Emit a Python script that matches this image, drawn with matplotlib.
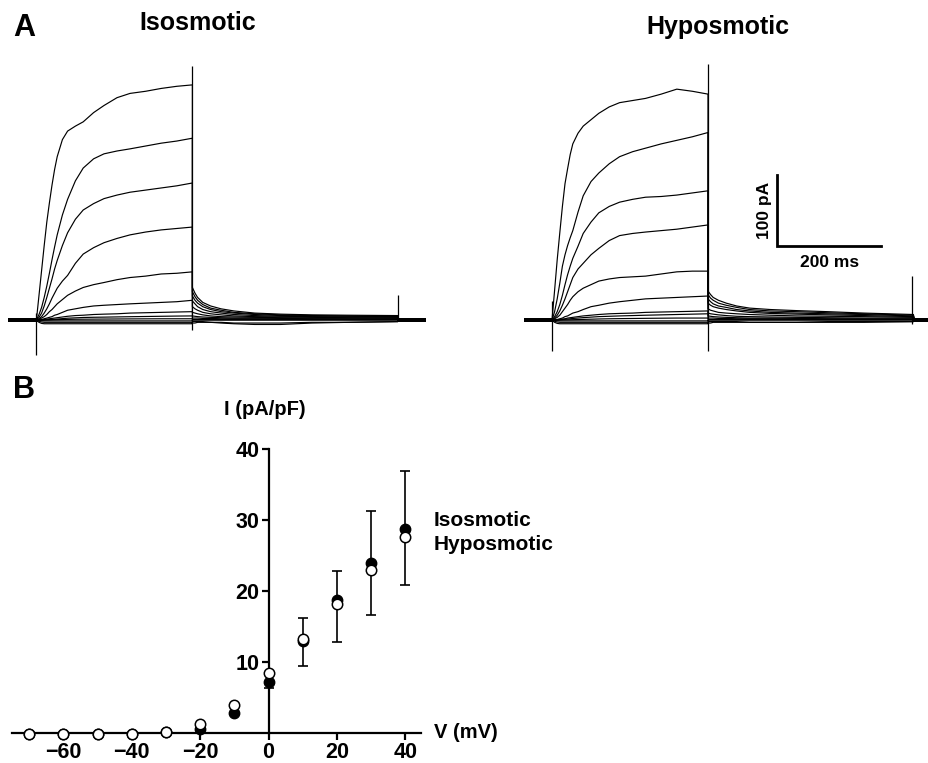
import matplotlib
matplotlib.use("Agg")
import matplotlib.pyplot as plt
import numpy as np

plt.rcParams['font.family'] = ['Liberation Sans', 'DejaVu Sans']
plt.rcParams['font.weight'] = 'bold'

# ---------------- Panel A data (current traces, pA vs ms) ----------------
t_pre = [-50, 0]
t_act = [0, 5, 10, 15, 20, 25, 30, 35, 40, 50, 60, 75, 90, 110, 130, 155, 180, 210, 240, 270, 300]
t_tail = [300, 305, 310, 320, 335, 355, 380, 420, 470, 530, 600, 695]
t_post = [697, 745]

iso_act = [
    [0, 35, 70, 105, 138, 165, 190, 212, 230, 254, 266, 273, 279, 292, 302, 313, 319, 322, 326, 329, 331],
    [0, 8, 18, 32, 48, 66, 85, 103, 120, 148, 170, 196, 214, 227, 234, 238, 241, 245, 249, 252, 256],
    [0, 4, 10, 20, 32, 45, 58, 72, 84, 105, 123, 142, 155, 164, 171, 176, 180, 183, 186, 189, 193],
    [0, 2, 5, 10, 16, 23, 31, 38, 45, 55, 63, 80, 93, 102, 109, 115, 120, 124, 127, 129, 131],
    [0, 1, 3, 5, 8, 12, 15, 19, 23, 29, 35, 41, 46, 50, 53, 57, 60, 62, 65, 66, 68],
    [0, 0.5, 1, 2, 3, 4, 5, 7, 8, 11, 14, 16, 18, 20, 21, 22, 23, 24, 25, 26, 28],
    [0, 0.2, 0.5, 1, 1.5, 2, 2.5, 3, 3.5, 4.5, 5.5, 6.5, 7, 8, 8.5, 9, 10, 10.5, 11, 11.5, 12],
    [0, 0.1, 0.2, 0.4, 0.6, 0.8, 1, 1.3, 1.6, 2.2, 2.8, 3.3, 3.8, 4.1, 4.3, 4.6, 4.9, 5.2, 5.5, 5.8, 6],
    [0, 0, 0.1, 0.2, 0.3, 0.4, 0.5, 0.6, 0.7, 0.9, 1.1, 1.3, 1.4, 1.5, 1.6, 1.7, 1.8, 1.9, 2, 2, 2],
    [0, -0.5, -0.8, -1, -1, -1, -1, -1, -1, -1, -1, -1, -1, -1, -1, -1, -1, -1, -1, -1, -1],
    [0, -1.5, -2.5, -3, -3, -3, -3, -3, -3, -3, -3, -3, -3, -3, -3, -3, -3, -3, -3, -3, -3],
    [0, -3, -4.5, -5, -5, -5, -5, -5, -5, -5, -5, -5, -5, -5, -5, -5, -5, -5, -5, -5, -5],
]
iso_tail = [
    [46, 38, 32, 25, 20, 16, 13, 10, 8.5, 7.5, 7, 6.5],
    [40, 33, 28, 22, 17, 14, 11, 9, 7.5, 6.5, 6, 5.5],
    [34, 28, 24, 19, 15, 12, 10, 8, 6.5, 6, 5.5, 5],
    [27, 23, 19, 15, 12, 10, 8, 6.5, 5.5, 5, 4.5, 4],
    [19, 16, 14, 11, 9, 7.5, 6, 5, 4.5, 4, 3.5, 3],
    [11, 10, 9, 7.5, 6, 5, 4.5, 4, 3.5, 3, 3, 3],
    [6, 5.5, 5, 4.5, 4, 3.5, 3, 3, 2.5, 2, 2, 2],
    [3, 3, 3, 2.5, 2.5, 2, 2, 2, 1.5, 1.5, 1, 1],
    [1, 1, 1, 1, 1, 1, 1, 1, 1, 1, 1, 1],
    [0, 0, 0, 0, 0, 0, 0, 0, 0, 0, 0, 0],
    [-2, -2, -2, -2, -3, -4, -5, -6, -6, -4, -3, -2],
    [-4, -4, -3, -3, -3, -3, -4, -4, -4, -3, -3, -2],
]
hypo_act = [
    [0, 42, 85, 123, 160, 192, 213, 233, 248, 263, 273, 282, 291, 300, 306, 309, 312, 318, 325, 322, 318],
    [0, 12, 30, 52, 76, 92, 105, 116, 126, 152, 175, 195, 207, 220, 230, 237, 242, 248, 253, 258, 264],
    [0, 5, 12, 22, 35, 50, 64, 76, 87, 104, 122, 138, 151, 160, 166, 170, 173, 174, 176, 179, 182],
    [0, 3, 7, 13, 21, 30, 40, 50, 60, 72, 80, 92, 101, 112, 119, 122, 124, 126, 128, 131, 134],
    [0, 2, 4, 7, 12, 17, 22, 28, 33, 40, 45, 50, 55, 58, 60, 61, 62, 65, 68, 69, 69],
    [0, 0.5, 1, 2, 3, 5, 6, 8, 10, 12, 15, 19, 21, 24, 26, 28, 30, 31, 32, 33, 34],
    [0, 0.2, 0.5, 1, 1.5, 2, 3, 3.5, 4, 5, 6, 7, 8, 9, 9.5, 10, 11, 11.5, 12, 12.5, 13],
    [0, 0.1, 0.3, 0.6, 1, 1.3, 1.6, 2, 2.4, 3, 3.6, 4.3, 5, 5.5, 6, 6.5, 7, 7.5, 8, 8.5, 9],
    [0, 0, 0.1, 0.2, 0.3, 0.4, 0.5, 0.6, 0.7, 0.9, 1.1, 1.4, 1.7, 2, 2.2, 2.4, 2.6, 2.8, 3, 3, 3],
    [0, -0.5, -0.8, -1, -1, -1, -1, -1, -1, -1, -1, -1, -1, -1, -1, -1, -1, -1, -1, -1, -1],
    [0, -1.5, -2.5, -3, -3, -3, -3, -3, -3, -3, -3, -3, -3, -3, -3, -3, -3, -3, -3, -3, -3],
    [0, -3, -4.5, -5, -5, -5, -5, -5, -5, -5, -5, -5, -5, -5, -5, -5, -5, -5, -5, -5, -5],
]
hypo_tail = [
    [41, 36, 32, 28, 24, 20, 17, 15, 13.5, 12, 10, 8],
    [36, 31, 28, 24, 21, 18, 15, 13, 12, 10.5, 9, 7],
    [30, 26, 23, 20, 18, 15, 13, 11, 10, 9, 8, 6],
    [24, 21, 19, 17, 15, 13, 11, 9.5, 8.5, 7.5, 6.5, 5],
    [16, 14, 13, 11, 10, 9, 8, 7, 6, 5.5, 5, 4],
    [10, 9, 8.5, 7.5, 6.5, 5.5, 5, 4.5, 4, 3.5, 3, 3],
    [6, 5.5, 5, 4.5, 4, 3.5, 3, 3, 2.5, 2, 2, 2],
    [3, 3, 3, 2.5, 2.5, 2, 2, 2, 1.5, 1.5, 1, 1],
    [1, 1, 1, 1, 1, 1, 1, 1, 1, 1, 1, 1],
    [0, 0, 0, 0, 0, 0, 0, 0, 0, 0, 0, 0],
    [-2, -2, -2, -2, -2, -2, -3, -3, -3, -2, -2, -2],
    [-4, -4, -3, -3, -3, -3, -3, -3, -3, -3, -3, -2],
]
# capacitive transients: (time ms, low pA, high pA)
iso_spikes = [(0, -49, 10), (300, -14, 358), (696, 0, 35)]
hypo_spikes = [(0, -44, 27), (300, -44, 361), (692, -6, 62)]

# scale bar
bar_t0, bar_i0 = 433, 104
bar_ms, bar_pA = 200, 100

# ---------------- Panel B data (I-V) ----------------
V = [-70, -60, -50, -40, -30, -20, -10, 0, 10, 20, 30, 40]
I_iso = [-0.1, -0.1, -0.1, -0.1, 0.1, 0.6, 2.8, 7.2, 13.0, 18.8, 23.9, 28.8]
I_hypo = [-0.1, -0.1, -0.1, -0.1, 0.2, 1.2, 4.0, 8.5, 13.3, 18.1, 22.9, 27.6]
V_err = [0, 10, 20, 30, 40]
I_iso_mean_err = [7.2, 13.0, 18.8, 23.9, 28.8]
err_low = [6.3, 9.4, 12.8, 16.6, 20.8]
err_high = [8.1, 16.2, 22.8, 31.3, 36.9]
x_ticks = [-60, -40, -20, 0, 20, 40]
y_ticks = [10, 20, 30, 40]

W, H = 929, 763
fig = plt.figure(figsize=(W / 100, H / 100), dpi=100)


def fx(px):
    return px / W


def fy(py):
    return 1 - py / H


def draw_traces(ax, act, tail, spikes):
    for a, tl in zip(act, tail):
        t = t_pre + t_act + t_tail + t_post
        y = [0, 0] + a + tl + [0, 0]
        ax.plot(t, y, color='black', lw=0.85, solid_joinstyle='round')
        ax.plot(t_pre, [0, 0], color='black', lw=2.6)
        ax.plot(t_post, [0, 0], color='black', lw=2.6)
    for ts, lo, hi in spikes:
        ax.vlines(ts, lo, hi, color='black', lw=0.9)
    ax.set_ylim(-56, 366)
    ax.axis('off')


axL = fig.add_axes([0, fy(360), fx(431.6), 300 / H])
axL.set_xlim(-70, 760)
draw_traces(axL, iso_act, iso_tail, iso_spikes)

axR = fig.add_axes([fx(515.6), fy(360), fx(413.4), 300 / H])
axR.set_xlim(-70, 725)
draw_traces(axR, hypo_act, hypo_tail, hypo_spikes)
axR.plot([bar_t0, bar_t0, bar_t0 + bar_ms], [bar_i0 + bar_pA, bar_i0, bar_i0],
         color='black', lw=2.0, solid_joinstyle='miter')
axR.text(bar_t0 - 10, bar_i0 + bar_pA / 2, '100 pA', rotation=90,
         ha='right', va='center', fontsize=12.5, fontweight='bold')
axR.text(bar_t0 + bar_ms / 2, bar_i0 - 12, '200 ms', ha='center', va='top',
         fontsize=12.5, fontweight='bold')

fig.text(fx(24), fy(28), 'A', fontsize=22, fontweight='bold', ha='center', va='center')
fig.text(fx(198), fy(23), 'Isosmotic', fontsize=18, fontweight='bold', ha='center', va='center')
fig.text(fx(718), fy(27), 'Hyposmotic', fontsize=18, fontweight='bold', ha='center', va='center')
fig.text(fx(24), fy(390), 'B', fontsize=22, fontweight='bold', ha='center', va='center')

# ---------------- Panel B ----------------
axB = fig.add_axes([fx(1.9), fy(754.3), fx(430.7), 319.5 / H])
axB.set_xlim(-78, 48)
axB.set_ylim(-3, 42)
for s in ['top', 'right']:
    axB.spines[s].set_visible(False)
axB.spines['left'].set_position(('data', 0))
axB.spines['bottom'].set_position(('data', 0))
axB.spines['left'].set_bounds(0, 40)
axB.spines['bottom'].set_bounds(-75, 44.6)
for s in ['left', 'bottom']:
    axB.spines[s].set_linewidth(1.6)
axB.set_xticks(x_ticks)
axB.set_yticks(y_ticks)
axB.tick_params(direction='out', length=5, width=1.6, labelsize=15.5, pad=1.5)
for lab in axB.get_xticklabels() + axB.get_yticklabels():
    lab.set_fontweight('bold')
axB.patch.set_alpha(0)

yerr = [np.array(I_iso_mean_err) - np.array(err_low),
        np.array(err_high) - np.array(I_iso_mean_err)]
axB.errorbar(V_err, I_iso_mean_err, yerr=yerr, fmt='none', ecolor='black',
             elinewidth=1.2, capsize=3.3, capthick=1.2, zorder=2)
axB.plot(V, I_iso, 'o', color='black', ms=7.5, mec='black', zorder=3, clip_on=False)
axB.plot(V, I_hypo, 'o', mfc='white', mec='black', mew=1.1, ms=7.5, zorder=4, clip_on=False)

axB.text(48.3, 0, 'V (mV)', fontsize=14.5, fontweight='bold', ha='left', va='center', clip_on=False)
axB.text(-1, 45.6, 'I (pA/pF)', fontsize=14.5, fontweight='bold', ha='center', va='center', clip_on=False)
axB.text(48.3, 30.0, 'Isosmotic', fontsize=15, fontweight='bold', ha='left', va='center', clip_on=False)
axB.text(48.3, 26.6, 'Hyposmotic', fontsize=15, fontweight='bold', ha='left', va='center', clip_on=False)

fig.savefig('out.png', dpi=100)
